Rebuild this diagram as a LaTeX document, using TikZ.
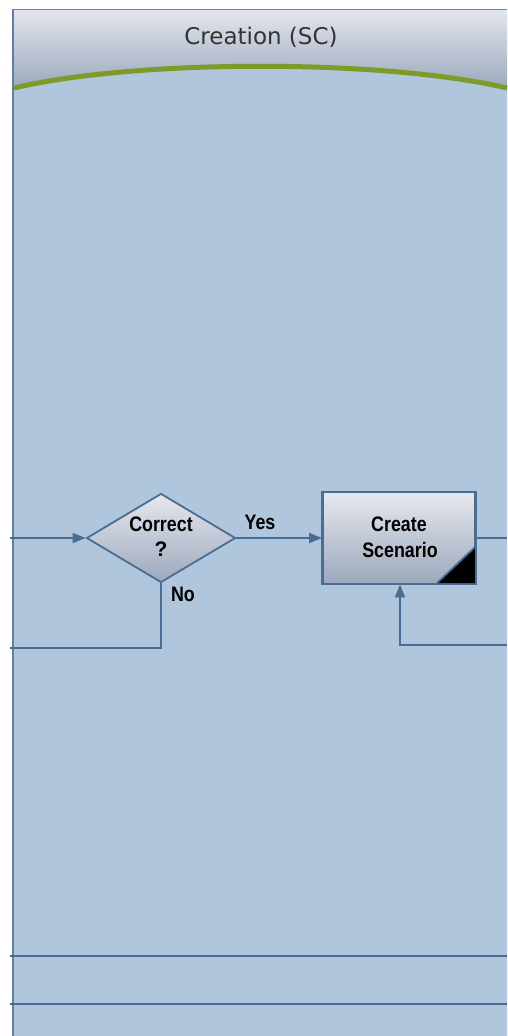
\documentclass[tikz,border=0pt]{standalone}
\usepackage{fontspec}
\setmainfont{Liberation Sans}
\newfontfamily\headfont{DejaVu Sans}
\usetikzlibrary{arrows.meta,shapes.geometric}
\definecolor{panelblue}{HTML}{B0C6DC}
\definecolor{linec}{HTML}{4A6D94}
\definecolor{borderc}{HTML}{5F7FA3}
\definecolor{headtop}{HTML}{E3E6ED}
\definecolor{headbot}{HTML}{98A6BB}
\definecolor{greenc}{HTML}{7E9B2A}
\definecolor{shapetop}{HTML}{E6E8EE}
\definecolor{shapebot}{HTML}{9CA8BC}
\tikzset{
  conn/.style={draw=linec, line width=1.8pt},
  arr/.style={conn, -{Triangle[length=13pt,width=10pt]}},
  shapebox/.style={draw=linec, line width=1.8pt, top color=shapetop, bottom color=shapebot},
  lbl/.style={font=\bfseries\fontsize{21}{24}\selectfont, inner sep=0pt},
}
\newcommand{\cond}[1]{\scalebox{0.85}[1]{#1}}
\begin{document}
\begin{tikzpicture}[x=1pt,y=-1pt]
\useasboundingbox (0,0) rectangle (507,1036);
\fill[white] (0,0) rectangle (507,1036);
% header
\shade[top color=headtop, bottom color=headbot] (12,9) rectangle (507,92);
\draw[draw=headbot!80!black, line width=0.8pt] (12,9) -- (507,9);
% panel body
\fill[panelblue] (12,88) .. controls (137,59) and (383,59) .. (507,88) -- (507,1036) -- (12,1036) -- cycle;
\draw[greenc, line width=5pt] (14,88) .. controls (137,59) and (383,59) .. (507,88);
\node[font=\headfont\fontsize{23}{26}\selectfont, text=black!80] (title) at (261,37) {Creation (SC)};
% left border
\draw[borderc, line width=2.4pt] (13,9) -- (13,1036);
% horizontal lane lines
\coordinate (l1a) at (10,956); \coordinate (l1b) at (507,956);
\coordinate (l2a) at (10,1004); \coordinate (l2b) at (507,1004);
\draw[conn, line width=2.2pt] (l1a) -- (l1b);
\draw[conn, line width=2.2pt] (l2a) -- (l2b);
% decision
\node[shapebox, diamond, minimum width=149pt, minimum height=89pt, inner sep=0pt] (dec) at (161,538) {};
\node[lbl] (dect) at (161,524) {\cond{Correct}};
\node[lbl] (decq) at (161,549) {?};
% process box
\node[shapebox, rectangle, minimum width=152pt, minimum height=91pt, inner sep=0pt] (proc) at (399,538) {};
\fill[black] (437,583) -- (475,583) -- (475,547) -- cycle;
\draw[linec, line width=1.8pt] (437,583) -- (475,547);
\draw[linec, line width=1.8pt] (proc.north west) rectangle (proc.south east);
\node[lbl] (proct) at (399,524) {\cond{Create}};
\node[lbl] (procs) at (400,550) {\cond{Scenario}};
% connectors
\coordinate (inL) at (10,538);
\draw[arr] (inL) -- (dec.west);
\draw[arr] (dec.east) -- (proc.west);
\node[lbl] (yes) at (260,522) {\cond{Yes}};
\coordinate (outR) at (507,538);
\draw[conn] (proc.east) -- (outR);
\coordinate (backR) at (507,645);
\coordinate (backM) at (400,645);
\draw[arr] (backR) -- (backM) -- (proc.south -| backM);
\coordinate (noC) at (161,648);
\coordinate (noL) at (10,648);
\draw[conn] (dec.south) -- (noC) -- (noL);
\node[lbl] (no) at (183,594) {\cond{No}};
\end{tikzpicture}
\end{document}
